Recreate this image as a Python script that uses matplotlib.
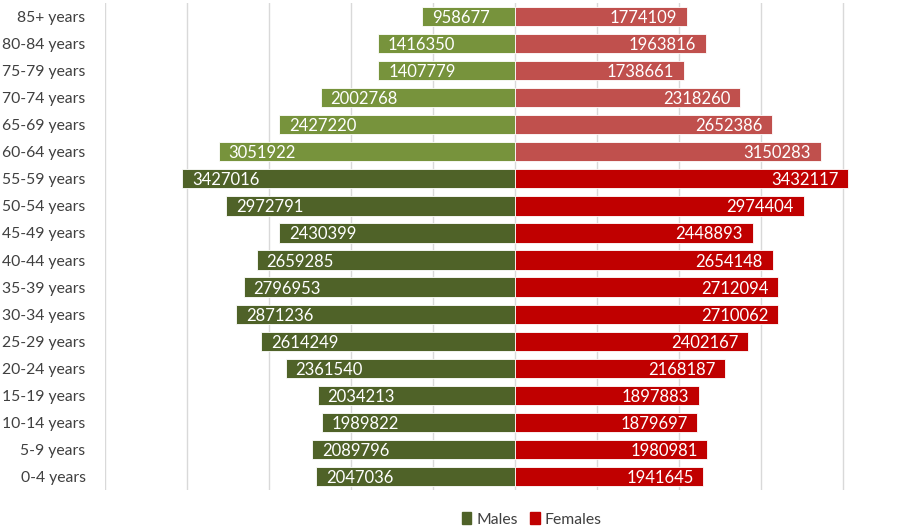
# Population pyramid: males vs females by five-year age group

import matplotlib.pyplot as plt
from matplotlib.patches import Patch
from matplotlib.ticker import MultipleLocator

ages = ['0-4 years', '5-9 years', '10-14 years', '15-19 years', '20-24 years',
        '25-29 years', '30-34 years', '35-39 years', '40-44 years', '45-49 years',
        '50-54 years', '55-59 years', '60-64 years', '65-69 years', '70-74 years',
        '75-79 years', '80-84 years', '85+ years']
males = [2047036, 2089796, 1989822, 2034213, 2361540, 2614249, 2871236, 2796953,
         2659285, 2430399, 2972791, 3427016, 3051922, 2427220, 2002768, 1407779,
         1416350, 958677]
females = [1941645, 1980981, 1879697, 1897883, 2168187, 2402167, 2710062, 2712094,
           2654148, 2448893, 2974404, 3432117, 3150283, 2652386, 2318260, 1738661,
           1963816, 1774109]

# groups from 60-64 upward get the lighter shades
older_from = 12
male_dark, male_light = '#4F6228', '#77933C'
female_dark, female_light = '#C00000', '#C0504D'

plt.rcParams['font.family'] = ['Lato', 'DejaVu Sans']

W, H = 912, 531
fig = plt.figure(figsize=(W / 100, H / 100), dpi=100)
ax_left, ax_right, ax_top, ax_bottom = 105, 900, 3, 490
ax = fig.add_axes([ax_left / W, (H - ax_bottom) / H,
                   (ax_right - ax_left) / W, (ax_bottom - ax_top) / H])

px_per_unit = 97.05e-6
center = 515
xmin = -(center - ax_left) / px_per_unit
xmax = (ax_right - center) / px_per_unit
grid_step = 82 / px_per_unit

y = range(len(ages))
male_colors = [male_light if i >= older_from else male_dark for i in y]
female_colors = [female_light if i >= older_from else female_dark for i in y]

ax.barh(y, [-m for m in males], height=0.71, color=male_colors,
        edgecolor='white', linewidth=0.6, zorder=2)
ax.barh(y, females, height=0.71, color=female_colors,
        edgecolor='white', linewidth=0.6, zorder=2)

for i in y:
    ax.annotate(str(males[i]), (-males[i], i), xytext=(7, 0),
                textcoords='offset points', ha='left', va='center_baseline',
                color='white', fontsize=12, zorder=3)
    ax.annotate(str(females[i]), (females[i], i), xytext=(-7, 0),
                textcoords='offset points', ha='right', va='center_baseline',
                color='white', fontsize=12, zorder=3)

ax.set_xlim(xmin, xmax)
ax.set_ylim(-0.5, len(ages) - 0.5)
ax.xaxis.set_major_locator(MultipleLocator(grid_step))
ax.grid(axis='x', color='#D9D9D9', linewidth=1, zorder=0)
ax.set_axisbelow(True)
ax.set_xticklabels([])
ax.tick_params(axis='x', length=0)
ax.tick_params(axis='y', length=0, pad=14, labelsize=11.3, labelcolor='#404040')
ax.set_yticks(list(y))
ax.set_yticklabels(ages)
for side in ax.spines:
    ax.spines[side].set_visible(False)

handles = [Patch(color=male_dark, label='Males'),
           Patch(color=female_dark, label='Females')]
fig.legend(handles=handles, loc='center', bbox_to_anchor=(0.583, 0.022),
           ncol=2, frameon=False, fontsize=11.3, handlelength=0.6,
           handleheight=0.8, handletextpad=0.3, columnspacing=0.8,
           labelcolor='#404040')

fig.savefig('out.png', dpi=100)
